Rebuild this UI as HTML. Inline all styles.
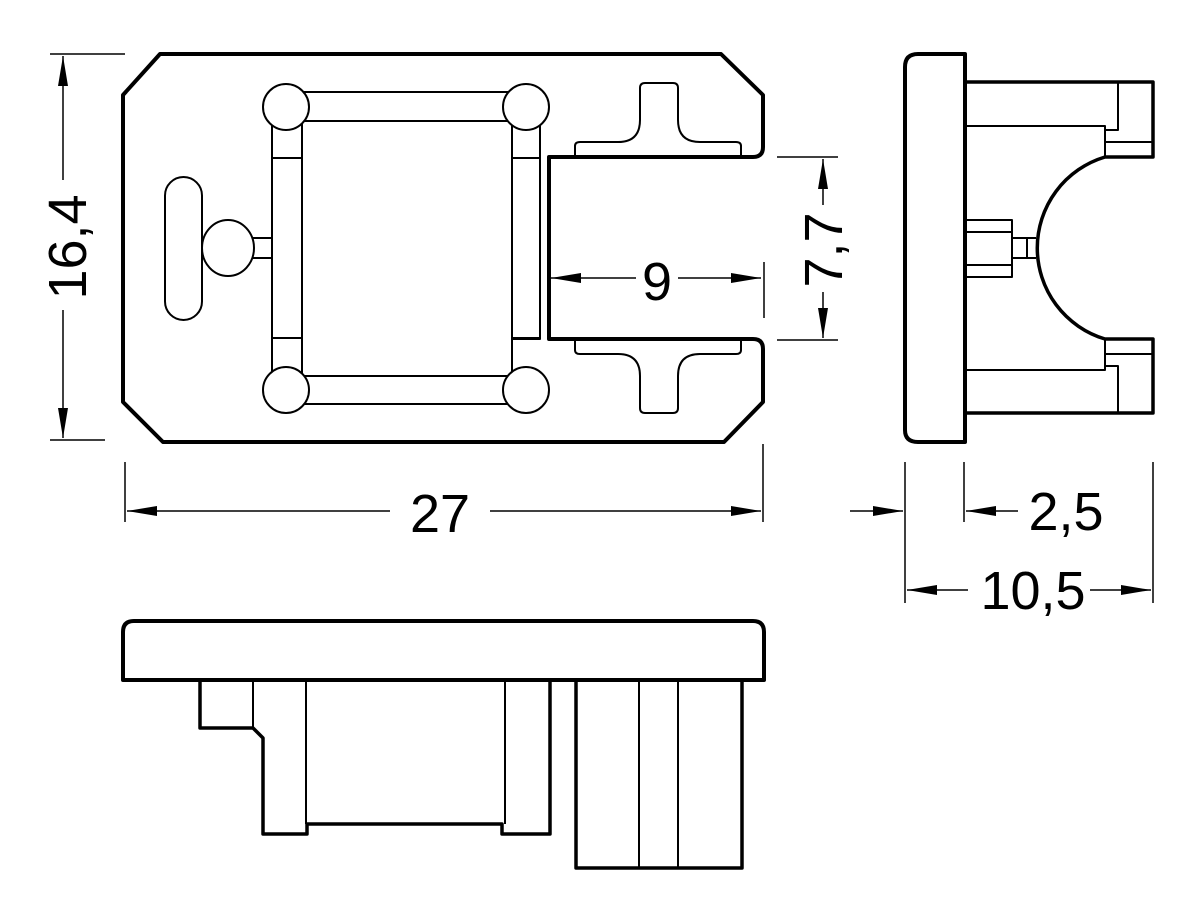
<!DOCTYPE html>
<html><head><meta charset="utf-8"><style>html,body{margin:0;padding:0;background:#fff}svg{display:block}</style></head>
<body>
<svg width="1200" height="923" viewBox="0 0 1200 923" xmlns="http://www.w3.org/2000/svg" font-family="Liberation Sans, DejaVu Sans, sans-serif">
<defs>
<marker id="a" viewBox="0 0 30 10" refX="30" refY="5" markerWidth="30" markerHeight="10" markerUnits="userSpaceOnUse" orient="auto-start-reverse"><path d="M0,0 L30,5 L0,10 Z" fill="#000"/></marker>
</defs>
<g fill="none" stroke="#000" stroke-linejoin="round">
<!-- main outline -->
<path stroke-width="4" d="M160,54 L721,54 L763,95 L763,147 Q763,157 753,157 L549,157 L549,339 L753,339 Q763,339 763,349 L763,402 L724,442 L163,442 L123,402 L123,95 Z"/>
<!-- T pads -->
<path stroke-width="2" d="M575,157 L575,146 Q575,142 580,142 L618,142 Q640,142 640,120 L640,88 Q640,83 645,83 L673,83 Q678,83 678,88 L678,120 Q678,142 700,142 L736,142 Q741,142 741,146 L741,157"/>
<path stroke-width="2" d="M575,339 L575,350 Q575,354 580,354 L618,354 Q640,354 640,376 L640,408 Q640,413 645,413 L673,413 Q678,413 678,408 L678,376 Q678,354 700,354 L736,354 Q741,354 741,350 L741,339"/>
<!-- frame -->
<g stroke-width="2">
<rect x="286" y="92" width="240" height="29"/>
<rect x="286" y="376" width="240" height="28"/>
<rect x="272" y="107" width="30" height="283"/>
<path d="M512,107 L512,390 M540,107 L540,339 L512,339"/>
<rect x="302" y="121" width="210" height="255"/>
<path d="M272,158 L302,158 M272,338 L302,338 M512,158 L540,158 M512,338 L540,338"/>
<ellipse cx="286" cy="107" rx="23" ry="23" fill="#fff"/>
<ellipse cx="526" cy="107" rx="23" ry="23" fill="#fff"/>
<ellipse cx="286" cy="390" rx="23" ry="23" fill="#fff"/>
<ellipse cx="526" cy="390" rx="23" ry="23" fill="#fff"/>
<rect x="165" y="177" width="37" height="143" rx="18.5"/>
<rect x="252" y="238" width="20" height="20"/>
<ellipse cx="228" cy="248" rx="26" ry="28" fill="#fff"/>
</g>
<!-- right view -->
<path stroke-width="4" d="M965,54 L918,54 Q905,54 905,67 L905,430 Q905,442 918,442 L965,442 Z"/>
<path stroke-width="3.5" d="M965,82 L1153,82 L1153,157 L1105,157 A95,95 0 0 0 1105,339 L1153,339 L1153,413 L965,413"/>
<g stroke-width="2">
<path d="M965,126 L1105,126 L1105,157 M1118,82 L1118,130 L1105,130 M1105,142 L1153,142"/>
<path d="M965,370 L1105,370 L1105,339 M1118,413 L1118,366 L1105,366 M1105,354 L1153,354"/>
<path d="M965,220 L1012,220 L1012,277 L965,277 M965,232 L1012,232 M965,265 L1012,265 M1012,238 L1036,238 M1012,258 L1036,258 M1027,238 L1027,258"/>
</g>
<!-- bottom view -->
<path stroke-width="4" d="M123,680 L123,632 Q123,621 134,621 L753,621 Q764,621 764,632 L764,680 Z"/>
<path stroke-width="3.5" d="M200,680 L200,728 L253,728 L263,738 L263,834 L307,834 L307,824 L502,824 L502,834 L550,834 L550,680"/>
<path stroke-width="2" d="M253,680 L253,728 M306,680 L306,824 M505,680 L505,824"/>
<rect stroke-width="3.5" x="576" y="680" width="166" height="188"/>
<path stroke-width="2" d="M639,680 L639,868 M678,680 L678,868"/>
</g>
<!-- dimensions -->
<g stroke="#000" stroke-width="1.5" fill="none">
<path d="M50,54 L125,54 M50,440 L105,440"/>
<path d="M63,180 L63,56" marker-end="url(#a)"/>
<path d="M63,310 L63,438" marker-end="url(#a)"/>
<path d="M125,462 L125,522 M763,444 L763,522"/>
<path d="M390,511 L127,511" marker-end="url(#a)"/>
<path d="M490,511 L761,511" marker-end="url(#a)"/>
<path d="M636,278 L551,278" marker-end="url(#a)"/>
<path d="M678,278 L761,278" marker-end="url(#a)"/>
<path d="M764,262 L764,318"/>
<path d="M777,157 L838,157 M777,340 L838,340"/>
<path d="M823,205 L823,159" marker-end="url(#a)"/>
<path d="M823,292 L823,338" marker-end="url(#a)"/>
<path d="M905,462 L905,603 M964,462 L964,522 M1153,462 L1153,603"/>
<path d="M850,511 L903,511" marker-end="url(#a)"/>
<path d="M1018,511 L966,511" marker-end="url(#a)"/>
<path d="M968,590 L907,590" marker-end="url(#a)"/>
<path d="M1090,590 L1151,590" marker-end="url(#a)"/>
</g>
<g font-size="54" fill="#000">
<text x="440" y="532" text-anchor="middle">27</text>
<text x="657" y="300" text-anchor="middle">9</text>
<text x="1066" y="530" text-anchor="middle">2,5</text>
<text x="1033" y="609" text-anchor="middle">10,5</text>
<text transform="translate(86,247) rotate(-90)" text-anchor="middle">16,4</text>
<text transform="translate(842,250) rotate(-90)" text-anchor="middle">7,7</text>
</g>
</svg>
</body></html>
